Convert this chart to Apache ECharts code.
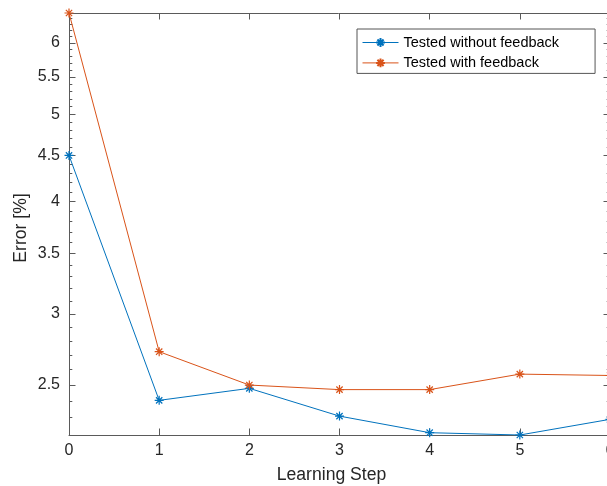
<!DOCTYPE html>
<html>
<head>
<meta charset="utf-8">
<script src="https://cdn.jsdelivr.net/npm/echarts@6/dist/echarts.min.js"></script>
<style>
  html, body { margin: 0; padding: 0; background: #fff; }
  #chart { width: 607px; height: 486px; }
</style>
</head>
<body>
<div id="chart"></div>
<script>
// data
const steps = [0, 1, 2, 3, 4, 5, 6]
const withoutFeedback = [4.5, 2.404, 2.479, 2.309, 2.213, 2.2, 2.29]
const withFeedback = [6.48, 2.723, 2.5, 2.471, 2.471, 2.571, 2.562]
const seriesNames = ['Tested without feedback', 'Tested with feedback']
const yMajorTicks = [2.5, 3, 3.5, 4, 4.5, 5, 5.5, 6]
const yMinorTicks = [2.3, 2.4, 2.6, 2.7, 2.8, 2.9, 3.1, 3.2, 3.3, 3.4, 3.6, 3.7, 3.8, 3.9,
  4.1, 4.2, 4.3, 4.4, 4.6, 4.7, 4.8, 4.9, 5.1, 5.2, 5.3, 5.4, 5.6, 5.7, 5.8, 5.9, 6.1, 6.2, 6.3, 6.4]

const font = 'Liberation Sans, Arial, Helvetica, sans-serif'
const axisColor = '#5a5a5a'
const textColor = '#262626'
const blue = '#0072BD'
const orange = '#D95319'
// MATLAB style '*' marker
const asterisk = 'path://M0,5L10,5M5,0L5,10M1.5,1.5L8.5,8.5M1.5,8.5L8.5,1.5'

const chart = echarts.init(document.getElementById('chart'))

const yAxisBase = (position, ticks, len) => ({
  type: 'log',
  logBase: 10,
  position: position,
  min: 2.2,
  max: 6.48,
  axisLine: { show: false },
  splitLine: { show: false },
  axisLabel: { show: false },
  axisTick: {
    show: true,
    inside: true,
    length: len,
    customValues: ticks,
    lineStyle: { color: axisColor, width: 1 }
  }
})

const xAxisBase = (position) => ({
  type: 'value',
  position: position,
  min: 0,
  max: 6,
  interval: 1,
  axisLine: { show: true, onZero: false, lineStyle: { color: axisColor, width: 1 } },
  splitLine: { show: false },
  axisTick: { show: true, inside: true, length: 6.5, lineStyle: { color: axisColor, width: 1 } },
  axisLabel: { show: false }
})

const leftMain = yAxisBase('left', yMajorTicks, 6.5)
leftMain.axisLine = { show: true, lineStyle: { color: axisColor, width: 1 } }
leftMain.axisLabel = {
  show: true,
  customValues: yMajorTicks,
  margin: 9,
  color: textColor,
  fontSize: 16,
  fontFamily: font,
  formatter: (v) => String(parseFloat(Number(v).toFixed(2)))
}
leftMain.name = 'Error [%]'
leftMain.nameLocation = 'middle'
leftMain.nameGap = 39
leftMain.nameMoveOverlap = false
leftMain.nameTextStyle = { color: textColor, fontSize: 17.6, fontFamily: font, padding: [0, 8, 0, 0] }

const rightMain = yAxisBase('right', yMajorTicks, 6.5)
rightMain.axisLine = { show: true, lineStyle: { color: axisColor, width: 1 } }

const bottomX = xAxisBase('bottom')
bottomX.axisLabel = { show: true, margin: 8, color: textColor, fontSize: 16, fontFamily: font }
bottomX.name = 'Learning Step'
bottomX.nameLocation = 'middle'
bottomX.nameGap = 31
bottomX.nameMoveOverlap = false
bottomX.nameTextStyle = { color: textColor, fontSize: 17.6, fontFamily: font, padding: [0, 16, 0, 0] }

const makeSeries = (name, values, color) => ({
  name: name,
  type: 'line',
  xAxisIndex: 0,
  yAxisIndex: 0,
  data: steps.map((s, i) => [s, values[i]]),
  symbol: asterisk,
  symbolSize: 9,
  showSymbol: true,
  lineStyle: { color: color, width: 1 },
  itemStyle: { color: color, borderColor: color, borderWidth: 1.2 },
  emphasis: { disabled: true }
})

const option = {
  animation: false,
  backgroundColor: '#fff',
  grid: {
    left: 69,
    top: 13,
    right: -3,
    bottom: 51,
    outerBoundsMode: 'none',
    containLabel: false
  },
  legend: {
    orient: 'vertical',
    left: 357,
    top: 29,
    padding: [6, 36, 3, 5],
    itemGap: 5.4,
    itemWidth: 36,
    itemHeight: 11,
    backgroundColor: '#fff',
    borderColor: '#555',
    borderWidth: 1,
    borderRadius: 0,
    lineStyle: { width: 1 },
    textStyle: { color: '#000', fontSize: 14.5, fontFamily: font, lineHeight: 14 },
    data: seriesNames
  },
  xAxis: [bottomX, xAxisBase('top')],
  yAxis: [
    leftMain,
    yAxisBase('left', yMinorTicks, 3.3),
    rightMain,
    yAxisBase('right', yMinorTicks, 3.3)
  ],
  series: [
    makeSeries(seriesNames[0], withoutFeedback, blue),
    makeSeries(seriesNames[1], withFeedback, orange)
  ]
}

chart.setOption(option)
window.addEventListener('resize', () => chart.resize())
</script>
</body>
</html>
